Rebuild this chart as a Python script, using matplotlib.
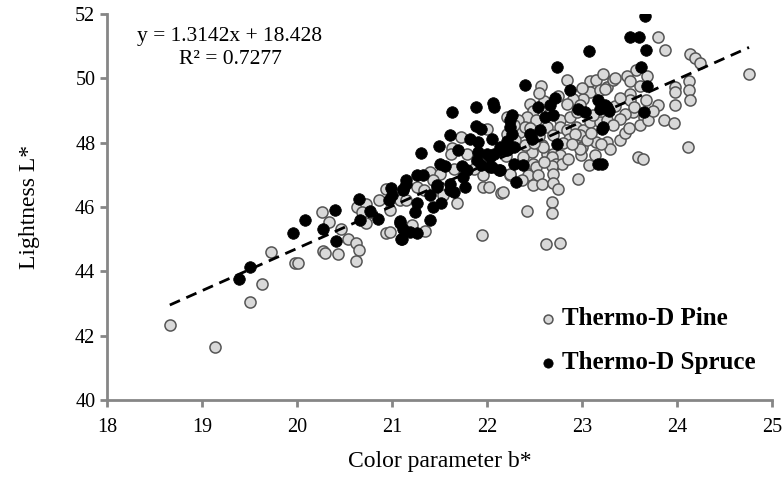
import matplotlib
matplotlib.use("Agg")
import matplotlib.pyplot as plt
import numpy as np

plt.rcParams['font.family'] = ['Liberation Serif', 'DejaVu Serif']

# Thermo-D Pine (b*, L*)
pine_b = [18.66, 19.14, 19.50, 19.63, 19.73, 19.98, 20.01, 20.26, 20.34, 20.46,
          20.27, 20.29, 20.43, 20.54, 20.63, 20.62, 20.65, 20.62, 20.73, 20.75,
          20.68, 20.73, 20.86, 20.94, 20.98, 20.94, 20.98, 21.08, 21.15, 21.73,
          22.00, 21.63, 21.62, 21.79, 21.89, 21.96, 21.96, 22.02, 22.15, 21.95,
          21.65, 21.86, 21.40, 21.51, 21.26, 21.34, 21.43, 21.54, 21.68, 21.21,
          21.35, 22.21, 22.24, 22.57, 22.84, 23.08, 23.15, 23.22, 23.08, 23.01,
          22.45, 22.49, 22.91, 22.98, 22.84, 22.42, 22.33, 22.21, 22.52, 22.77,
          22.87, 22.35, 22.40, 22.63, 22.77, 22.84, 22.94, 23.01, 23.08, 23.19,
          23.26, 22.86, 22.98, 22.93, 23.15, 23.26, 22.58, 22.63, 22.70, 22.77,
          22.59, 23.00, 22.99, 22.98, 22.47, 22.40, 22.38, 22.49, 22.52, 22.43,
          22.54, 22.49, 22.58, 22.68, 22.73, 22.79, 22.68, 22.70, 22.70, 22.75,
          22.37, 22.24, 22.17, 22.96, 23.07, 23.14, 22.68, 22.68, 22.42, 22.62,
          22.77, 23.26, 23.19, 23.80, 23.88, 23.57, 24.14, 24.19, 24.24, 23.69,
          23.47, 23.51, 23.61, 23.98, 23.98, 24.13, 24.13, 24.14, 23.80, 23.98,
          23.86, 23.97, 24.12, 23.59, 23.64, 23.68, 23.65, 23.61, 23.51, 23.51,
          23.54, 23.45, 23.40, 23.40, 23.33, 23.33, 23.24, 24.76,
          22.30, 22.55, 22.70, 22.80, 22.90, 23.05, 23.10, 22.65, 22.95, 23.12,
          22.60, 22.75, 23.00, 23.35, 23.40, 23.45, 23.30, 22.85, 22.60, 22.50,
          22.45, 22.20, 22.28, 22.55, 23.20, 23.50, 23.55, 23.70, 23.75, 23.35]
pine_L = [42.33, 41.64, 43.03, 43.60, 44.60, 44.26, 44.26, 45.83, 45.54, 45.33,
          44.64, 44.57, 44.53, 44.99, 46.00, 44.87, 44.66, 44.32, 46.09, 45.80,
          45.85, 45.51, 46.23, 46.57, 45.90, 45.20, 45.23, 46.21, 46.21, 48.18,
          48.44, 47.85, 47.64, 47.66, 47.40, 46.99, 46.62, 46.62, 46.44, 45.12,
          47.19, 47.19, 47.09, 47.04, 46.62, 46.54, 46.83, 46.37, 46.14, 45.43,
          45.25, 48.28, 46.99, 49.78, 49.94, 49.92, 49.94, 50.15, 49.57, 49.35,
          49.21, 49.00, 49.37, 49.16, 49.21, 48.80, 48.72, 48.80, 48.70, 48.70,
          48.80, 48.33, 48.49, 48.49, 48.49, 48.39, 48.49, 48.39, 48.64, 48.64,
          48.70, 48.13, 48.23, 48.28, 48.02, 48.02, 47.92, 47.66, 47.66, 47.61,
          47.87, 47.87, 47.61, 47.82, 47.71, 47.92, 47.56, 47.35, 47.25, 46.99,
          46.99, 46.68, 46.73, 47.56, 47.35, 47.33, 47.27, 47.04, 46.75, 46.57,
          46.83, 47.04, 46.47, 46.88, 47.30, 47.61, 46.16, 45.82, 45.87, 44.84,
          44.87, 49.73, 49.63, 51.28, 50.89, 50.27, 50.77, 50.63, 50.48, 50.09,
          50.09, 49.92, 49.78, 49.73, 49.57, 49.92, 49.65, 49.34, 49.18, 49.18,
          48.72, 48.62, 47.87, 47.56, 47.48, 49.32, 48.80, 48.54, 49.53, 49.32,
          48.95, 48.90, 48.75, 48.10, 48.54, 49.94, 49.68, 50.15,
          48.10, 48.20, 48.25, 48.00, 47.95, 48.10, 48.30, 48.90, 48.95, 48.85,
          49.30, 49.45, 49.70, 49.15, 49.40, 48.30, 47.80, 47.50, 47.40, 48.00,
          48.45, 47.60, 48.55, 49.55, 47.95, 48.45, 49.10, 48.70, 49.00, 50.00]

# Thermo-D Spruce (b*, L*)
spruce_b = [19.39, 19.50, 19.96, 20.08, 20.27, 20.40, 20.41, 20.65, 20.66, 20.77,
            20.85, 20.99, 20.97, 21.00, 21.08, 21.12, 21.09, 21.15, 21.12, 21.63,
            21.88, 22.06, 22.07, 21.31, 21.50, 21.61, 21.88, 21.94, 21.82, 21.91,
            22.05, 21.70, 21.91, 22.00, 22.07, 22.14, 22.03, 22.13, 22.21, 21.51,
            21.56, 21.74, 21.79, 21.75, 21.77, 21.26, 21.33, 21.15, 21.12, 21.47,
            21.40, 21.61, 21.65, 21.52, 21.43, 21.26, 21.24, 21.40, 21.08, 21.10,
            21.19, 21.26, 22.24, 22.21, 23.07, 22.74, 22.40, 22.87, 23.17, 23.24,
            22.72, 22.54, 22.66, 22.96, 23.03, 22.26, 22.61, 22.70, 22.24, 22.26,
            22.45, 22.56, 22.47, 23.21, 22.74, 22.14, 22.22, 22.28, 22.28, 22.38,
            22.14, 22.31, 23.17, 23.19, 23.26, 23.66, 23.51, 23.60, 23.67, 23.62,
            23.69, 23.65, 23.28, 23.22, 23.21, 21.47, 21.61, 22.03, 22.05, 21.89,
            21.94]
spruce_L = [43.76, 44.12, 45.18, 45.59, 45.33, 45.92, 44.95, 46.26, 45.59, 45.88,
            45.62, 46.60, 46.21, 46.37, 45.57, 45.33, 44.99, 46.73, 46.52, 48.95,
            49.11, 49.23, 49.11, 47.69, 47.90, 48.25, 48.51, 48.44, 48.13, 48.02,
            48.13, 47.79, 47.71, 47.66, 47.66, 47.76, 47.25, 47.14, 47.76, 47.35,
            47.27, 47.27, 47.14, 46.93, 46.62, 46.99, 46.99, 46.83, 46.57, 46.62,
            46.37, 46.73, 46.47, 46.11, 46.00, 46.13, 45.85, 45.59, 45.51, 44.99,
            45.23, 45.18, 48.70, 48.07, 50.85, 50.37, 49.81, 49.63, 49.32, 49.16,
            49.39, 49.11, 49.16, 49.06, 48.95, 48.85, 48.80, 48.85, 48.49, 48.28,
            48.28, 48.39, 48.13, 48.44, 47.97, 47.87, 47.82, 47.87, 47.35, 47.30,
            47.14, 46.78, 47.33, 49.06, 49.11, 51.93, 51.28, 51.30, 50.90, 50.37,
            49.76, 48.95, 49.00, 48.49, 47.35, 46.68, 46.52, 47.56, 47.25, 47.45,
            47.30]

slope, intercept = 1.3142, 18.428
r2 = 0.7277

fig = plt.figure(figsize=(7.82, 4.90), dpi=100)
ax = fig.add_axes([0.137, 0.184, 0.850, 0.787])

ax.scatter(pine_b, pine_L, s=64, facecolor='#d9d9d9', edgecolor='#555555',
           linewidth=1.1, label='Thermo-D Pine', zorder=2)
ax.scatter(spruce_b, spruce_L, s=70, facecolor='black', edgecolor='black',
           linewidth=0.5, label='Thermo-D Spruce', zorder=3)

all_b = np.array(pine_b + spruce_b)
xl = np.array([all_b.min(), all_b.max()])
ax.plot(xl, slope * xl + intercept, '--', color='black', lw=2, dashes=(4, 2.5), zorder=4)

ax.set_xlim(18, 25)
ax.set_ylim(40, 52)
ax.set_xticks(range(18, 26))
ax.set_yticks(range(40, 53, 2))
for s in ['top', 'right']:
    ax.spines[s].set_visible(False)
for s in ['left', 'bottom']:
    ax.spines[s].set_color('#868686')
    ax.spines[s].set_linewidth(2)
ax.tick_params(colors='#868686', width=2, length=5, labelsize=14.5, labelcolor='black')
ax.tick_params(axis='x', pad=8)

ax.set_xlabel('Color parameter b*', fontsize=17, labelpad=10)
ax.set_ylabel('Lightness L*', fontsize=17, labelpad=25)

fig.text(230/782, 1-36/490, 'y = %.4fx + %.3f' % (slope, intercept), ha='center', va='center', fontsize=15.5)
fig.text(230/782, 1-59/490, 'R² = %.4f' % r2, ha='center', va='center', fontsize=15.5)

leg = ax.legend(loc='lower right', bbox_to_anchor=(0.99, 0.04), frameon=False,
                prop={'weight': 'bold', 'size': 18}, handlelength=0.7, handletextpad=0.2,
                labelspacing=0.85, markerscale=0.8, borderaxespad=0)

fig.savefig('out.png', dpi=100)
